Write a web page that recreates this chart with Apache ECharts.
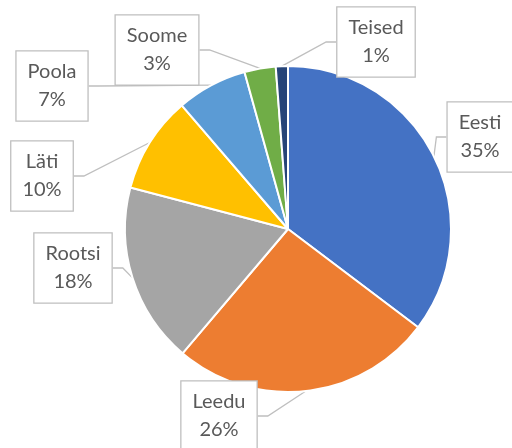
<!DOCTYPE html>
<html><head><meta charset="utf-8">
<script src="https://cdn.jsdelivr.net/npm/echarts@6/dist/echarts.min.js"></script>
<style>html,body{margin:0;padding:0;background:#fff}#c{width:512px;height:448px}</style>
</head><body><div id="c"></div>
<script>
const categories = ['Eesti', 'Leedu', 'Rootsi', 'Läti', 'Poola', 'Soome', 'Teised'];
const values = [35.3, 25.9, 17.9, 9.6, 7.0, 3.1, 1.2];
const colors = ['#4472C4', '#ED7D31', '#A5A5A5', '#FFC000', '#5B9BD5', '#70AD47', '#264478'];
// label box centres (layout only)
const labelPos = [[480, 137], [219, 416], [73, 268], [42, 176], [52, 86], [157, 50], [376, 42]];

const chart = echarts.init(document.getElementById('c'), null, {renderer: 'canvas'});
chart.setOption({
  animation: false,
  series: [{
    type: 'pie',
    center: [288, 229],
    radius: 163,
    startAngle: 90,
    clockwise: true,
    avoidLabelOverlap: false,
    data: categories.map((n, i) => ({name: n, value: values[i], itemStyle: {color: colors[i]}})),
    itemStyle: {borderColor: '#fff', borderWidth: 2},
    label: {
      show: true,
      position: 'outside',
      formatter: p => p.name + '\n' + Math.round(p.percent) + '%',
      fontFamily: 'Lato',
      fontSize: 20,
      lineHeight: 28,
      color: '#595959',
      backgroundColor: '#fff',
      borderColor: '#BFBFBF',
      borderWidth: 1.3,
      padding: [7, 11, 6, 11],
      align: 'center'
    },
    labelLine: {show: true, length: 10, length2: 10, lineStyle: {color: '#BFBFBF', width: 1.3}},
    labelLayout: p => ({
      x: labelPos[p.dataIndex][0],
      y: labelPos[p.dataIndex][1],
      align: 'center',
      verticalAlign: 'middle'
    })
  }]
});
</script></body></html>
